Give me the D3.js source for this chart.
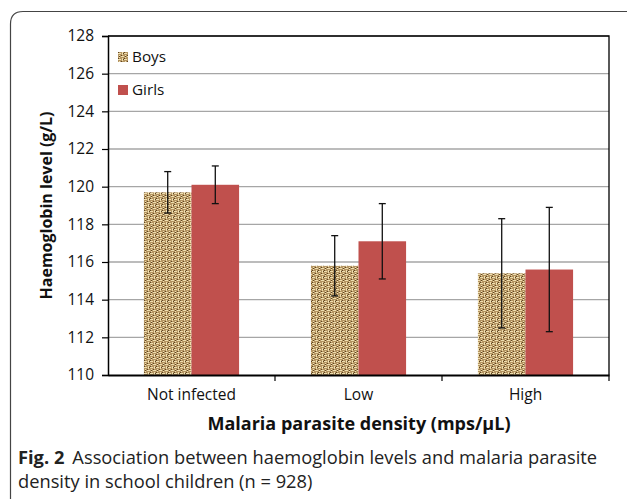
<!DOCTYPE html>
<html>
<head>
<meta charset="utf-8">
<script src="https://cdn.jsdelivr.net/npm/d3@7"></script>
<style>
  body { margin: 0; background: #fff; }
  svg { display: block; }
</style>
</head>
<body>
<svg id="chart" width="627" height="499"></svg>
<script>
// data
const categories = ["Not infected", "Low", "High"];
const seriesNames = ["Boys", "Girls"];
const boysMean = [119.7, 115.8, 115.4];
const boysLow = [118.6, 114.2, 112.5];
const boysHigh = [120.8, 117.4, 118.3];
const girlsMean = [120.1, 117.1, 115.6];
const girlsLow = [119.1, 115.1, 112.3];
const girlsHigh = [121.1, 119.1, 118.9];
const yTicks = [110, 112, 114, 116, 118, 120, 122, 124, 126, 128];

const svg = d3.select("#chart");
const font = "'Open Sans', 'Liberation Sans', sans-serif";

const plot = { left: 108, right: 609, top: 36, bottom: 375 };

// outer panel frame
svg.append("path")
  .attr("d", "M10.5,510 L10.5,24 Q10.5,11.5 23,11.5 L640,11.5")
  .attr("fill", "none")
  .attr("stroke", "#444")
  .attr("stroke-width", 1.2);

// burlap-ish texture for boys
const defs = svg.append("defs");
const pat = defs.append("pattern")
  .attr("id", "burlap")
  .attr("patternUnits", "userSpaceOnUse")
  .attr("width", 6).attr("height", 6);
pat.append("rect").attr("width", 6).attr("height", 6).attr("fill", "#b39360");
pat.append("path").attr("d", "M0,1.5 H3 M3,4.5 H6 M4.5,0 V3 M1.5,3 V6")
  .attr("stroke", "#efdfb0").attr("stroke-width", 1.1);
pat.append("path").attr("d", "M0,0 H1 V1 H0 Z M3,3 h1 v1 h-1 Z M5,1 h1 v1 h-1 Z M1,4 h1 v1 h-1 Z")
  .attr("fill", "#5e4420");

const x = d3.scaleBand()
  .domain(categories)
  .range([plot.left, plot.right]);

const xInner = d3.scaleBand()
  .domain(seriesNames)
  .range([0, x.bandwidth()])
  .paddingInner(0)
  .paddingOuter(0.755);

const y = d3.scaleLinear()
  .domain([110, 128])
  .range([plot.bottom, plot.top]);

// gridlines
svg.append("g")
  .selectAll("line")
  .data(yTicks.slice(1))
  .join("line")
  .attr("x1", plot.left).attr("x2", plot.right)
  .attr("y1", d => y(d)).attr("y2", d => y(d))
  .attr("stroke", "#a6a6a6")
  .attr("stroke-width", 1.3);

// right and top plot border
svg.append("path")
  .attr("d", `M${plot.left},${plot.top} H${plot.right} V${plot.bottom}`)
  .attr("fill", "none")
  .attr("stroke", "#000")
  .attr("stroke-width", 1.3);

const series = [
  { name: "Boys", mean: boysMean, lo: boysLow, hi: boysHigh, fill: "url(#burlap)" },
  { name: "Girls", mean: girlsMean, lo: girlsLow, hi: girlsHigh, fill: "#c0504d" }
];

const bars = [];
series.forEach(s => {
  categories.forEach((c, i) => {
    bars.push({ cat: c, name: s.name, v: s.mean[i], lo: s.lo[i], hi: s.hi[i], fill: s.fill });
  });
});

const g = svg.append("g");
g.selectAll(".bar")
  .data(bars)
  .join("rect")
  .attr("class", "bar")
  .attr("x", d => x(d.cat) + xInner(d.name))
  .attr("width", xInner.bandwidth())
  .attr("y", d => y(d.v))
  .attr("height", d => y(110) - y(d.v))
  .attr("fill", d => d.fill);

// error bars
const eb = g.selectAll(".err")
  .data(bars)
  .join("g")
  .attr("class", "err")
  .attr("stroke", "#111")
  .attr("stroke-width", 1.3);
const cx = d => x(d.cat) + xInner(d.name) + xInner.bandwidth() / 2;
eb.append("line")
  .attr("x1", cx).attr("x2", cx)
  .attr("y1", d => y(d.hi)).attr("y2", d => y(d.lo));
eb.append("line")
  .attr("x1", d => cx(d) - 3.5).attr("x2", d => cx(d) + 3.5)
  .attr("y1", d => y(d.hi)).attr("y2", d => y(d.hi));
eb.append("line")
  .attr("x1", d => cx(d) - 3.5).attr("x2", d => cx(d) + 3.5)
  .attr("y1", d => y(d.lo)).attr("y2", d => y(d.lo));

// y axis
const yAxis = svg.append("g")
  .attr("transform", `translate(${plot.left},0)`)
  .call(d3.axisLeft(y).tickValues(yTicks).tickSize(6).tickPadding(8));
yAxis.select(".domain").attr("stroke", "#000").attr("stroke-width", 1.5);
yAxis.selectAll(".tick line").attr("stroke", "#000").attr("stroke-width", 1.2);
yAxis.selectAll("text")
  .attr("font-family", font)
  .attr("font-size", "15.5px")
  .attr("fill", "#111");

// x axis
const xAxis = svg.append("g")
  .attr("transform", `translate(0,${plot.bottom})`)
  .call(d3.axisBottom(x).tickSize(0).tickPadding(14));
xAxis.select(".domain").attr("stroke", "#000").attr("stroke-width", 2.2);
xAxis.selectAll("text")
  .attr("font-family", font)
  .attr("font-size", "15.5px")
  .attr("fill", "#111");
// category separator ticks
svg.append("g")
  .selectAll("line")
  .data(categories.slice(1).concat(["_end"]))
  .join("line")
  .attr("x1", d => d === "_end" ? plot.right : x(d))
  .attr("x2", d => d === "_end" ? plot.right : x(d))
  .attr("y1", plot.bottom).attr("y2", plot.bottom + 6)
  .attr("stroke", "#000").attr("stroke-width", 1.2);

// axis titles
svg.append("text")
  .attr("transform", `translate(52,${(plot.top + plot.bottom) / 2}) rotate(-90)`)
  .attr("text-anchor", "middle")
  .attr("font-family", font)
  .attr("font-weight", "bold")
  .attr("font-size", "16px")
  .attr("fill", "#111")
  .text("Haemoglobin level (g/L)");

svg.append("text")
  .attr("x", 359)
  .attr("y", 430)
  .attr("text-anchor", "middle")
  .attr("font-family", font)
  .attr("font-weight", "bold")
  .attr("font-size", "18px")
  .attr("fill", "#111")
  .text("Malaria parasite density (mps/µL)");

// legend
const legend = svg.append("g")
  .selectAll("g")
  .data(series)
  .join("g")
  .attr("transform", (d, i) => `translate(118,${52 + i * 33})`);
legend.append("rect")
  .attr("width", 10).attr("height", 10)
  .attr("fill", d => d.fill);
legend.append("text")
  .attr("x", 14).attr("y", 10)
  .attr("font-family", font)
  .attr("font-size", "15.3px")
  .attr("fill", "#111")
  .text(d => d.name);

// caption
const cap = svg.append("text")
  .attr("font-family", font)
  .attr("font-size", "18.3px")
  .attr("fill", "#222");
cap.append("tspan").attr("x", 18).attr("y", 464)
  .attr("font-weight", "bold").text("Fig. 2");
cap.append("tspan").attr("dx", 8)
  .text("Association between haemoglobin levels and malaria parasite");
cap.append("tspan").attr("x", 18).attr("y", 488)
  .text("density in school children (n = 928)");
</script>
</body>
</html>
